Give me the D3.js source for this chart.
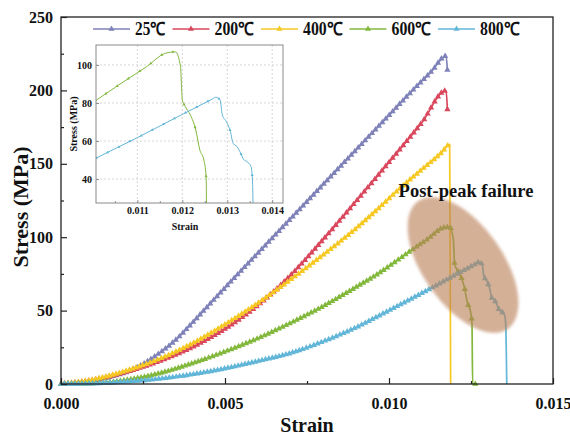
<!DOCTYPE html>
<html>
<head>
<meta charset="utf-8">
<script src="https://cdn.jsdelivr.net/npm/d3@7"></script>
<style>
body { margin: 0; background: #fff; }
text { font-family: 'Liberation Serif', 'Times New Roman', serif; font-weight: bold; fill: #111; }
</style>
</head>
<body>
<svg id="chart" width="570" height="436"></svg>
<script>
// series: strain (-) and stress (MPa)
const labels = ['25℃', '200℃', '400℃', '600℃', '800℃'];
const colors = ['#7f82b8', '#d9475d', '#f5c823', '#82b83c', '#62b6d8'];

const strain25 = [0, 0.0005, 0.001, 0.0015, 0.002, 0.0025, 0.003, 0.0035, 0.004, 0.0045, 0.005, 0.006, 0.007, 0.008, 0.009, 0.010, 0.0107, 0.0113, 0.01174, 0.01178];
const stress25 = [0, 0.8, 2.4, 4.8, 8, 13.5, 21, 30, 41.5, 53.5, 65.5, 89, 112.5, 136, 159.5, 183, 199.5, 213, 223.4, 214];

const strain200 = [0, 0.001, 0.002, 0.003, 0.004, 0.005, 0.006, 0.007, 0.008, 0.009, 0.010, 0.011, 0.01174, 0.01178];
const stress200 = [0, 2.7, 8.2, 15.5, 25, 37.5, 53.5, 74, 98.5, 124.5, 151, 178, 199.8, 187];

const strain400 = [0, 0.001, 0.002, 0.003, 0.004, 0.005, 0.006, 0.007, 0.008, 0.009, 0.0097, 0.0103, 0.011, 0.0116, 0.01185, 0.01188];
const stress400 = [0, 3, 9, 17, 27.5, 40.5, 55, 71, 88, 106, 120, 132.5, 146, 157.5, 163, 0];

const strain600 = [0, 0.001, 0.002, 0.003, 0.004, 0.005, 0.006, 0.007, 0.008, 0.009, 0.0097, 0.0101, 0.0107, 0.0112, 0.01163, 0.01185, 0.01196, 0.01198, 0.0120, 0.01207, 0.01218, 0.0123, 0.01239, 0.01248, 0.01253, 0.01255, 0.01266];
const stress600 = [0, 0.5, 2.7, 7.2, 14, 22, 31, 41.5, 53, 66, 75.5, 81.7, 91.3, 99, 106.2, 106.9, 99.1, 90.4, 81.6, 78, 73.7, 65.8, 55.3, 50, 41.2, 0, 0];

const strain800 = [0, 0.001, 0.002, 0.003, 0.004, 0.005, 0.006, 0.007, 0.008, 0.009, 0.0097, 0.0101, 0.011, 0.012, 0.01266, 0.01274, 0.01284, 0.01289, 0.01298, 0.01307, 0.01313, 0.01322, 0.0133, 0.01336, 0.01344, 0.01353, 0.01356, 0.01359];
const stress800 = [0, 0.3, 1.5, 3.5, 6.5, 10.5, 15.5, 21, 29, 38.5, 46.5, 51.2, 61.8, 74, 82, 83, 81.6, 73.7, 70.2, 65, 58.8, 57, 53.5, 50.4, 49.1, 46.5, 39.5, 0];

const strains = [strain25, strain200, strain400, strain600, strain800];
const stresses = [stress25, stress200, stress400, stress600, stress800];

const xTicks = [0, 0.005, 0.010, 0.015];
const xMinor = [0.0025, 0.0075, 0.0125];
const yTicks = [0, 50, 100, 150, 200, 250];
const yMinor = [25, 75, 125, 175, 225];

const insetSeries = [3, 4];
const insetXTicks = [0.011, 0.012, 0.013, 0.014];
const insetXMinor = [0.0105, 0.0115, 0.0125, 0.0135];
const insetYTicks = [40, 60, 80, 100];

const svg = d3.select('#chart');

function series(i) {
    return strains[i].map((s, k) => [s, stresses[i][k]]);
}

// triangles placed along the drawn path each time it moves `step` px to the right,
// skipping the near-vertical failure drops
function markAlong(g, pathNode, color, step, size) {
    const len = pathNode.getTotalLength();
    let lastX = -1e9;
    let prev = pathNode.getPointAtLength(0);
    const pts = [];
    for (let l = 0; l <= len; l += 0.5) {
        const p = pathNode.getPointAtLength(l);
        const steep = l > 0 && Math.abs(p.x - prev.x) < 0.03;
        if (p.x - lastX >= step && !steep) {
            pts.push(p);
            lastX = p.x;
        }
        prev = p;
    }
    g.selectAll(null)
        .data(pts)
        .enter()
        .append('path')
        .attr('d', d3.symbol(d3.symbolTriangle).size(size))
        .attr('transform', d => 'translate(' + d.x + ',' + d.y + ')')
        .attr('fill', color);
}

function drawMain() {
    const x = d3.scaleLinear().domain([0, 0.015]).range([61, 553]);
    const y = d3.scaleLinear().domain([0, 250]).range([384, 17]);

    const line = d3.line().curve(d3.curveMonotoneX).x(d => x(d[0])).y(d => y(d[1]));

    const g = svg.append('g');

    strains.forEach((_s, i) => {
        const data = series(i);
        const p = g.append('path')
            .datum(data)
            .attr('d', line)
            .attr('fill', 'none')
            .attr('stroke', colors[i])
            .attr('stroke-width', 1.7);
        markAlong(g, p.node(), colors[i], 3.3, 17);
        // last recorded point of the 25 and 200 ℃ tests
        if (data[data.length - 1][1] > 0) {
            g.append('path')
                .attr('d', d3.symbol(d3.symbolTriangle).size(17))
                .attr('transform', 'translate(' + x(data[data.length - 1][0]) + ',' + y(data[data.length - 1][1]) + ')')
                .attr('fill', colors[i]);
        }
    });

    // highlight of the post-peak zone
    svg.append('defs').append('filter')
        .attr('id', 'soft')
        .append('feGaussianBlur')
        .attr('stdDeviation', 1.5);
    svg.append('ellipse')
        .attr('cx', 463)
        .attr('cy', 265)
        .attr('rx', 78)
        .attr('ry', 40)
        .attr('transform', 'rotate(55,463,265)')
        .attr('fill', '#bb8058')
        .attr('opacity', 0.62)
        .attr('filter', 'url(#soft)');

    svg.append('text')
        .attr('x', 466)
        .attr('y', 197)
        .attr('text-anchor', 'middle')
        .attr('font-size', 18.5)
        .text('Post-peak failure');

    // axes with inward ticks
    const ax = svg.append('g').attr('transform', 'translate(0,384)');
    ax.call(d3.axisBottom(x).tickValues(xTicks).tickFormat(d3.format('.3f'))
        .tickSizeInner(-6).tickSizeOuter(0).tickPadding(14));
    ax.append('g').call(d3.axisBottom(x).tickValues(xMinor).tickFormat('').tickSizeInner(-3).tickSizeOuter(0));

    const ay = svg.append('g').attr('transform', 'translate(61,0)');
    ay.call(d3.axisLeft(y).tickValues(yTicks).tickSizeInner(-6).tickSizeOuter(0).tickPadding(8));
    ay.append('g').call(d3.axisLeft(y).tickValues(yMinor).tickFormat('').tickSizeInner(-3).tickSizeOuter(0));

    svg.selectAll('.domain').remove();
    svg.selectAll('.tick line').attr('stroke', '#222').attr('stroke-width', 1.2);
    svg.selectAll('.tick text')
        .attr('font-size', 16)
        .attr('font-family', "'Liberation Serif', serif")
        .attr('font-weight', 'bold')
        .attr('fill', '#111');

    svg.append('rect')
        .attr('x', 61).attr('y', 17)
        .attr('width', 492).attr('height', 367)
        .attr('fill', 'none')
        .attr('stroke', '#222')
        .attr('stroke-width', 1.3);

    svg.append('text')
        .attr('x', 307).attr('y', 432)
        .attr('text-anchor', 'middle')
        .attr('font-size', 20)
        .text('Strain');

    svg.append('text')
        .attr('transform', 'translate(28,207) rotate(-90)')
        .attr('text-anchor', 'middle')
        .attr('font-size', 22)
        .text('Stress (MPa)');
}

function drawLegend() {
    const lg = svg.append('g');
    let cx = 93;
    labels.forEach((lab, i) => {
        lg.append('line')
            .attr('x1', cx).attr('x2', cx + 37)
            .attr('y1', 29).attr('y2', 29)
            .attr('stroke', colors[i])
            .attr('stroke-width', 1.6);
        lg.append('path')
            .attr('d', d3.symbol(d3.symbolTriangle).size(16))
            .attr('transform', 'translate(' + (cx + 18.5) + ',29)')
            .attr('fill', colors[i]);
        const t = lg.append('text')
            .attr('x', cx + 42).attr('y', 35)
            .attr('font-size', 18)
            .text(lab);
        // the ℃ glyph falls back to a wide font; squeeze it to the figure's width
        const w = (lab.length - 1) * 9 + 12.5;
        t.attr('textLength', w).attr('lengthAdjust', 'spacingAndGlyphs');
        cx += 42 + w + 7;
    });
}

function drawInset() {
    const x = d3.scaleLinear().domain([0.01008, 0.01424]).range([96, 283]);
    const y = d3.scaleLinear().domain([27.4, 110.5]).range([203, 45]);

    const g = svg.append('g');
    g.append('rect')
        .attr('x', 96).attr('y', 45)
        .attr('width', 187).attr('height', 158)
        .attr('fill', '#fff');

    g.selectAll('.vgrid')
        .data(insetXTicks)
        .enter()
        .append('line')
        .attr('x1', d => x(d)).attr('x2', d => x(d))
        .attr('y1', 45).attr('y2', 203)
        .attr('stroke', '#ccc')
        .attr('stroke-dasharray', '2,2')
        .attr('stroke-width', 0.8);
    g.selectAll('.hgrid')
        .data(insetYTicks)
        .enter()
        .append('line')
        .attr('x1', 96).attr('x2', 283)
        .attr('y1', d => y(d)).attr('y2', d => y(d))
        .attr('stroke', '#ccc')
        .attr('stroke-dasharray', '2,2')
        .attr('stroke-width', 0.8);

    g.append('clipPath').attr('id', 'inset-clip')
        .append('rect')
        .attr('x', 96).attr('y', 45)
        .attr('width', 187).attr('height', 158);

    const line = d3.line().curve(d3.curveMonotoneX).x(d => x(d[0])).y(d => y(d[1]));
    const lines = g.append('g').attr('clip-path', 'url(#inset-clip)');
    insetSeries.forEach(i => {
        const p = lines.append('path')
            .datum(series(i))
            .attr('d', line)
            .attr('fill', 'none')
            .attr('stroke', colors[i])
            .attr('stroke-width', 1);
        markAlong(lines, p.node(), colors[i], 11, 4);
    });

    const ax = g.append('g').attr('transform', 'translate(0,203)');
    ax.call(d3.axisBottom(x).tickValues(insetXTicks).tickFormat(d3.format('.3f'))
        .tickSizeInner(-3).tickSizeOuter(0).tickPadding(4));
    ax.append('g').call(d3.axisBottom(x).tickValues(insetXMinor).tickFormat('').tickSizeInner(-2).tickSizeOuter(0));
    const ay = g.append('g').attr('transform', 'translate(96,0)');
    ay.call(d3.axisLeft(y).tickValues(insetYTicks).tickSizeInner(-3).tickSizeOuter(0).tickPadding(4));

    g.selectAll('.domain').remove();
    g.selectAll('.tick line').attr('stroke', '#777').attr('stroke-width', 0.8);
    g.selectAll('.tick text')
        .attr('font-size', 10)
        .attr('font-family', "'Liberation Serif', serif")
        .attr('font-weight', 'bold')
        .attr('fill', '#111');

    g.append('rect')
        .attr('x', 96).attr('y', 45)
        .attr('width', 187).attr('height', 158)
        .attr('fill', 'none')
        .attr('stroke', '#8a8a8a')
        .attr('stroke-width', 1);

    g.append('text')
        .attr('x', 185).attr('y', 230)
        .attr('text-anchor', 'middle')
        .attr('font-size', 10)
        .text('Strain');
    g.append('text')
        .attr('transform', 'translate(77,124) rotate(-90)')
        .attr('text-anchor', 'middle')
        .attr('font-size', 10)
        .text('Stress (MPa)');
}

drawMain();
drawLegend();
drawInset();
</script>
</body>
</html>
